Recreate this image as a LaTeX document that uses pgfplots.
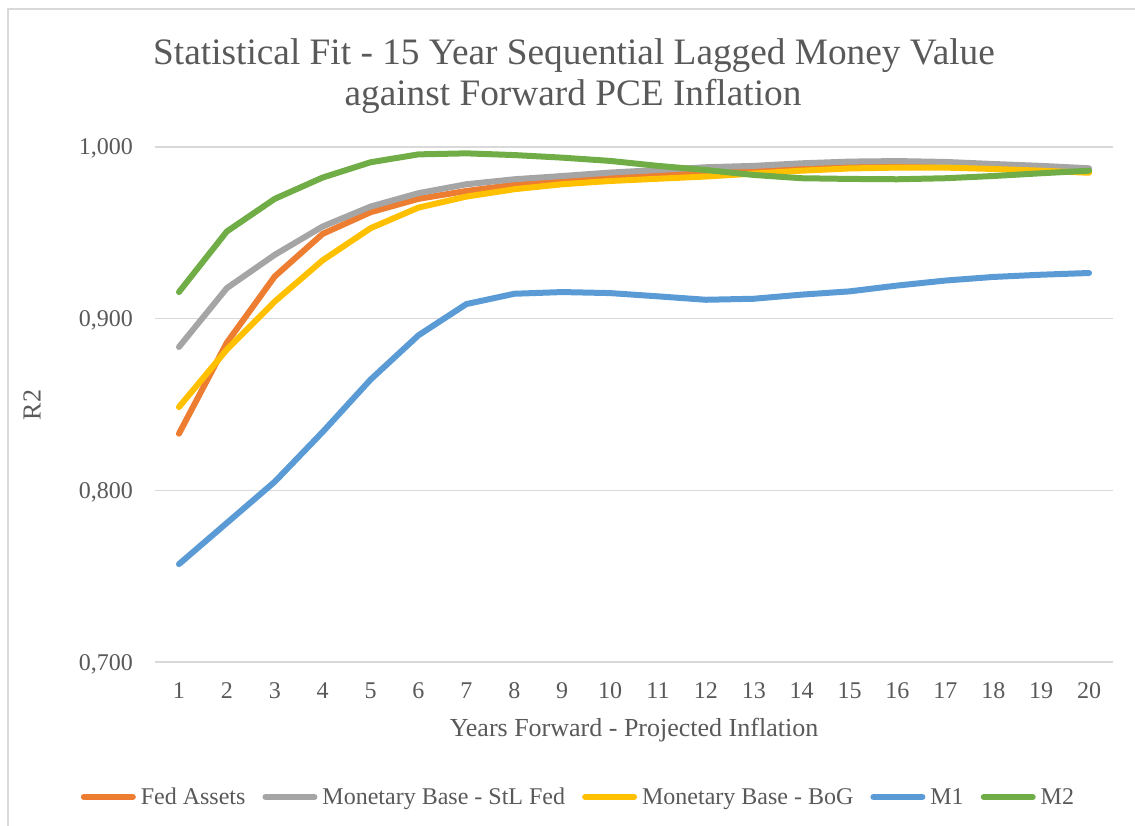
\documentclass[border=0pt]{standalone}
\usepackage{fontspec}
\setmainfont{Liberation Serif}
\usepackage{pgfplots}
\pgfplotsset{compat=1.18}
\definecolor{cOrange}{HTML}{ED7D31}
\definecolor{cGray}{HTML}{A5A5A5}
\definecolor{cYellow}{HTML}{FFC000}
\definecolor{cBlue}{HTML}{5B9BD5}
\definecolor{cGreen}{HTML}{70AD47}
\definecolor{txt}{HTML}{595959}
\definecolor{gridc}{HTML}{D9D9D9}
\begin{document}
\begin{tikzpicture}
\path[use as bounding box] (0,0) rectangle (1135pt,825pt);
\draw[gridc, line width=1.5pt] (8pt,-5pt) -- (8pt,816pt) -- (1140pt,816pt);
\node[anchor=base, text=txt, font=\fontsize{37.3}{45}\selectfont, inner sep=0pt] at (574pt,760pt) {Statistical Fit - 15 Year Sequential Lagged Money Value};
\node[anchor=base, text=txt, font=\fontsize{37.3}{45}\selectfont, inner sep=0pt] at (573pt,719pt) {against Forward PCE Inflation};
\begin{axis}[
  at={(155pt,163pt)}, anchor=south west,
  scale only axis, width=958pt, height=515pt,
  xmin=0.5, xmax=20.5, ymin=0.7, ymax=1.0,
  xtick={1,...,20}, ytick={0.7,0.8,0.9,1.0},
  ymajorgrids, grid style={gridc, line width=1.5pt},
  axis line style={draw=none},
  major tick length=0pt,
  /pgf/number format/assume math mode=true,
  tick label style={text=txt, font=\fontsize{24}{28}\selectfont, inner sep=0pt},
  yticklabel style={/pgf/number format/.cd, fixed, fixed zerofill, precision=3, use comma, /tikz/.cd, anchor=base east, xshift=-22pt, yshift=-8pt},
  xticklabel style={anchor=center, yshift=-29pt},
  xlabel={Years Forward - Projected Inflation},
  xlabel style={at={(axis description cs:0.5,-0.1437)}, anchor=base, text=txt, font=\fontsize{26}{30}\selectfont, inner sep=0pt},
  ylabel={R2},
  ylabel style={at={(axis description cs:-0.1284,0.499)}, anchor=center, text=txt, font=\fontsize{26}{30}\selectfont, inner sep=0pt},
  legend columns=5,
  legend cell align=left,
  legend style={at={(axis description cs:0.4415,-0.262)}, anchor=center, draw=none, fill=none,
    font=\fontsize{24}{28}\selectfont, text=txt, nodes={inner sep=1pt},
    /tikz/every odd column/.append style={column sep=4pt},
    /tikz/every even column/.append style={column sep=16pt}},
  legend image code/.code={\draw[#1, line width=6pt, line cap=round] (0pt,0pt) -- (49pt,0pt);},
  every axis plot/.append style={line width=6pt, line cap=round, line join=round, mark=none},
]
\addplot[cOrange] coordinates {(1,0.833) (2,0.886) (3,0.9246) (4,0.9494) (5,0.962) (6,0.9698) (7,0.9744) (8,0.978) (9,0.981) (10,0.9828) (11,0.984) (12,0.9852) (13,0.9862) (14,0.9875) (15,0.9885) (16,0.989) (17,0.989) (18,0.988) (19,0.987) (20,0.986)};
\addlegendentry{Fed Assets}
\addplot[cGray] coordinates {(1,0.8835) (2,0.9178) (3,0.9372) (4,0.9537) (5,0.9653) (6,0.9731) (7,0.9783) (8,0.9812) (9,0.9831) (10,0.9851) (11,0.9866) (12,0.9882) (13,0.989) (14,0.9905) (15,0.9915) (16,0.9918) (17,0.9913) (18,0.9901) (19,0.989) (20,0.9876)};
\addlegendentry{Monetary Base - StL Fed}
\addplot[cYellow] coordinates {(1,0.8485) (2,0.882) (3,0.910) (4,0.934) (5,0.9527) (6,0.9647) (7,0.9711) (8,0.9754) (9,0.9783) (10,0.9802) (11,0.9815) (12,0.9828) (13,0.9845) (14,0.9862) (15,0.9875) (16,0.988) (17,0.988) (18,0.9872) (19,0.9862) (20,0.985)};
\addlegendentry{Monetary Base - BoG}
\addplot[cBlue] coordinates {(1,0.757) (2,0.781) (3,0.805) (4,0.834) (5,0.8645) (6,0.8903) (7,0.9085) (8,0.9145) (9,0.9155) (10,0.9149) (11,0.913) (12,0.911) (13,0.9116) (14,0.914) (15,0.9159) (16,0.9193) (17,0.9222) (18,0.9243) (19,0.9256) (20,0.9266)};
\addlegendentry{M1}
\addplot[cGreen] coordinates {(1,0.9155) (2,0.9508) (3,0.9698) (4,0.9822) (5,0.9911) (6,0.9957) (7,0.9963) (8,0.9953) (9,0.9938) (10,0.9919) (11,0.989) (12,0.9866) (13,0.9837) (14,0.9818) (15,0.9814) (16,0.9812) (17,0.9818) (18,0.9831) (19,0.9847) (20,0.9862)};
\addlegendentry{M2}
\end{axis}
\end{tikzpicture}
\end{document}
